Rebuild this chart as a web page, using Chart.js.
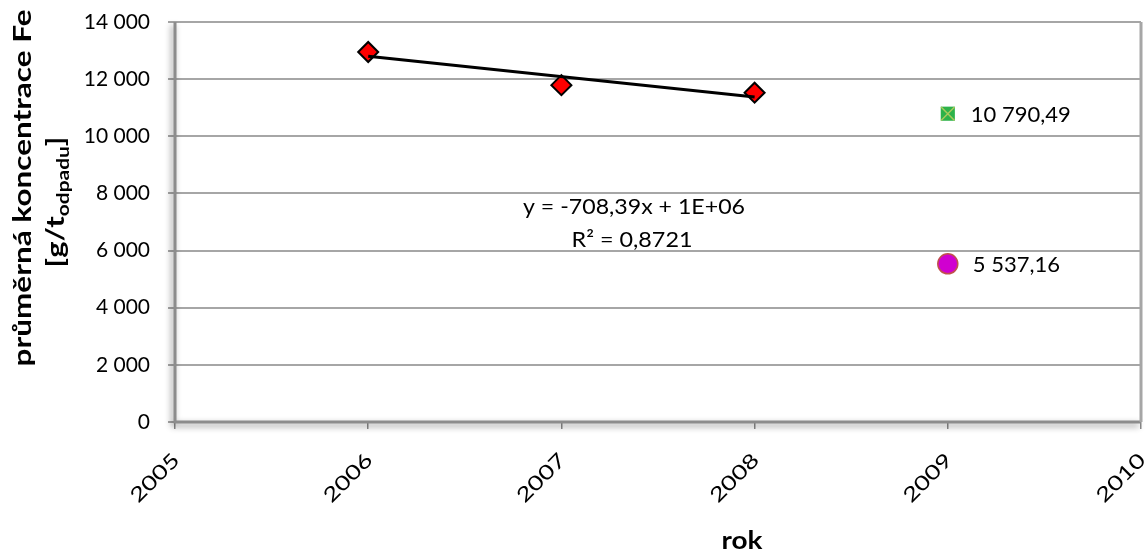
<!DOCTYPE html>
<html>
<head>
<meta charset="utf-8">
<script src="https://cdn.jsdelivr.net/npm/chart.js@4"></script>
<style>
  html, body { margin: 0; padding: 0; background: #fff; }
  #wrap { width: 1145px; height: 552px; position: relative; }
</style>
</head>
<body>
<div id="wrap"><canvas id="chart" width="1145" height="552"></canvas></div>
<script>
// data
const years = [2006, 2007, 2008];
const feValues = [12950, 11790, 11526];
const point2009Green = [{ x: 2009, y: 10790.49 }];
const point2009Pink = [{ x: 2009, y: 5537.16 }];
const yTicks = [0, 2000, 4000, 6000, 8000, 10000, 12000, 14000];
const xTicks = [2005, 2006, 2007, 2008, 2009, 2010];
const equationText = 'y = -708,39x + 1E+06';
const r2Text = 'R² = 0,8721';
const yTitle1 = 'průměrná koncentrace Fe';
const xTitle = 'rok';

const FONT = 'Lato, "Open Sans", sans-serif';

function fmtThousands(v) {
  return String(Math.round(v)).replace(/\B(?=(\d{3})+(?!\d))/g, ' ');
}
function fmtDecimal(v) {
  const parts = v.toFixed(2).split('.');
  return parts[0].replace(/\B(?=(\d{3})+(?!\d))/g, ' ') + ',' + parts[1];
}

// linear trend (least squares) like excel does
function linReg(xs, ys) {
  const n = xs.length;
  const mx = xs.reduce((a, b) => a + b, 0) / n;
  const my = ys.reduce((a, b) => a + b, 0) / n;
  let num = 0, den = 0;
  for (let i = 0; i < n; i++) {
    num += (xs[i] - mx) * (ys[i] - my);
    den += (xs[i] - mx) * (xs[i] - mx);
  }
  const k = num / den;
  return { k: k, q: my - k * mx };
}
const trend = linReg(years, feValues);
const trendPoints = [years[0], years[years.length - 1]].map(x => ({ x: x, y: trend.k * x + trend.q }));

// draw text centred at (x, y), stretched along its direction to a given length
function stretchText(ctx, text, x, y, font, length, angle) {
  ctx.save();
  ctx.font = font;
  const w = ctx.measureText(text).width;
  ctx.translate(x, y);
  ctx.rotate(angle || 0);
  ctx.scale(length / w, 1);
  ctx.textAlign = 'center';
  ctx.textBaseline = 'middle';
  ctx.fillText(text, 0, 0);
  ctx.restore();
}

const extras = {
  id: 'extras',
  beforeDatasetsDraw(chart) {
    const ctx = chart.ctx;
    const a = chart.chartArea;
    ctx.save();
    // shadowed left and bottom edges of plot area
    ctx.shadowColor = 'rgba(0,0,0,0.45)';
    ctx.shadowBlur = 6;
    ctx.shadowOffsetX = -2;
    ctx.shadowOffsetY = 3;
    ctx.strokeStyle = '#8c8c8c';
    ctx.lineWidth = 3;
    ctx.beginPath();
    ctx.moveTo(a.left, a.top);
    ctx.lineTo(a.left, a.bottom);
    ctx.lineTo(a.right, a.bottom);
    ctx.stroke();
    ctx.shadowColor = 'transparent';
    ctx.strokeStyle = '#a6a6a6';
    ctx.lineWidth = 3;
    ctx.beginPath();
    ctx.moveTo(a.right, a.top);
    ctx.lineTo(a.right, a.bottom);
    ctx.stroke();
    ctx.restore();
  },
  afterDatasetsDraw(chart) {
    const ctx = chart.ctx;
    const xs = chart.scales.x, ys = chart.scales.y;
    ctx.save();
    ctx.fillStyle = '#000';

    // x tick labels, rotated
    xTicks.forEach(v => {
      const px = xs.getPixelForValue(v);
      stretchText(ctx, String(v), px - 20, 478, '20px ' + FONT, 60, -Math.PI / 4);
    });

    // point labels
    ctx.font = '22px ' + FONT;
    ctx.textBaseline = 'middle';
    ctx.textAlign = 'left';
    const g = point2009Green[0], p = point2009Pink[0];
    ctx.fillText(fmtDecimal(g.y), xs.getPixelForValue(g.x) + 23, ys.getPixelForValue(g.y) + 1);
    ctx.fillText(fmtDecimal(p.y), xs.getPixelForValue(p.x) + 25, ys.getPixelForValue(p.y) + 1);

    // trendline equation
    stretchText(ctx, equationText, 634, 207, '22px ' + FONT, 222);
    stretchText(ctx, r2Text, 632, 240, '22px ' + FONT, 121);

    // axis titles
    stretchText(ctx, xTitle, 742, 541, 'bold 24px ' + FONT, 41);
    stretchText(ctx, yTitle1, 23, 188, 'bold 25px ' + FONT, 357, -Math.PI / 2);

    // second line with subscript
    ctx.save();
    ctx.translate(56, 202);
    ctx.rotate(-Math.PI / 2);
    const big = 'bold 25px ' + FONT, small = 'bold 17px ' + FONT;
    ctx.font = big;
    const w1 = ctx.measureText('[g/t').width;
    const w3 = ctx.measureText(']').width;
    ctx.font = small;
    const w2 = ctx.measureText('odpadu').width;
    const tot = w1 + w2 + w3;
    ctx.scale(131 / tot, 1);
    const x0 = -tot / 2;
    ctx.textAlign = 'left';
    ctx.textBaseline = 'middle';
    ctx.font = big;
    ctx.fillText('[g/t', x0, 0);
    ctx.font = small;
    ctx.fillText('odpadu', x0 + w1, 8);
    ctx.font = big;
    ctx.fillText(']', x0 + w1 + w2, 0);
    ctx.restore();

    ctx.restore();
  }
};

new Chart(document.getElementById('chart'), {
  type: 'scatter',
  data: {
    datasets: [
      {
        type: 'line',
        data: trendPoints,
        borderColor: '#000',
        borderWidth: 3,
        pointRadius: 0,
        fill: false
      },
      {
        data: years.map((x, i) => ({ x: x, y: feValues[i] })),
        pointStyle: 'rectRot',
        pointRadius: 10,
        backgroundColor: '#ff0000',
        borderColor: '#000',
        borderWidth: 2
      },
      {
        // light cross drawn over the green square
        data: point2009Green,
        pointStyle: 'crossRot',
        pointRadius: 9.5,
        borderColor: '#a9c95c',
        borderWidth: 1.5
      },
      {
        data: point2009Green,
        pointStyle: 'rect',
        pointRadius: 10,
        backgroundColor: '#2db24a',
        borderColor: '#2db24a',
        borderWidth: 0
      },
      {
        data: point2009Pink,
        pointStyle: 'circle',
        pointRadius: 10,
        backgroundColor: '#d000d0',
        borderColor: '#c0504d',
        borderWidth: 1.5
      }
    ]
  },
  options: {
    responsive: false,
    animation: false,
    devicePixelRatio: 1,
    layout: { autoPadding: false, padding: { left: 0, top: 22, right: 4, bottom: 0 } },
    plugins: { legend: { display: false }, tooltip: { enabled: false } },
    scales: {
      x: {
        type: 'linear',
        min: 2005,
        max: 2010,
        afterBuildTicks: s => { s.ticks = xTicks.map(v => ({ value: v })); },
        afterFit: s => { s.height = 130; s.paddingLeft = 0; s.paddingRight = 0; },
        border: { display: false },
        grid: { drawOnChartArea: false, tickLength: 7, color: '#8c8c8c', lineWidth: 1.5 },
        ticks: { display: false }
      },
      y: {
        min: 0,
        max: 14000,
        afterBuildTicks: s => { s.ticks = yTicks.map(v => ({ value: v })); },
        afterFit: s => { s.width = 175; s.paddingTop = 0; s.paddingBottom = 0; },
        border: { display: false },
        grid: { color: '#a6a6a6', lineWidth: 2, tickLength: 7 },
        ticks: {
          color: '#000',
          font: { family: FONT, size: 21 },
          padding: 18,
          callback: v => fmtThousands(v)
        }
      }
    }
  },
  plugins: [extras]
});
</script>
</body>
</html>
